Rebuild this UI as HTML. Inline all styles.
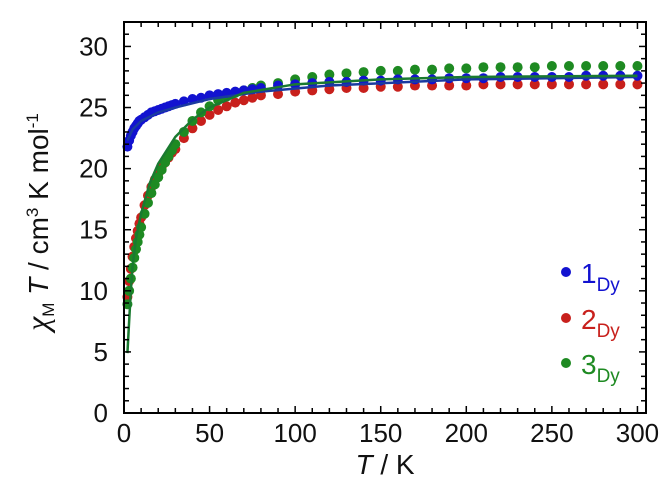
<!DOCTYPE html>
<html><head><meta charset="utf-8"><style>
body{margin:0;background:#fff}
svg{display:block}
text{font-family:"Liberation Sans","DejaVu Sans",sans-serif}
</style></head><body>
<svg id="chart" width="667" height="482" viewBox="0 0 667 482" xmlns="http://www.w3.org/2000/svg">
<g id="grid"></g>
<g id="series"></g>
<g id="axes"></g>
</svg>
<script>
const temps = [2,3,4,5,6,7,8,9,10,12,14,16,18,20,22,24,26,28,30,35,40,45,50,55,60,65,70,75,80,90,100,110,120,130,140,150,160,170,180,190,200,210,220,230,240,250,260,270,280,290,300];
const blueVals = [21.8,22.3,22.7,23.0,23.3,23.5,23.7,23.9,24.0,24.2,24.4,24.6,24.7,24.8,24.9,25.0,25.1,25.2,25.3,25.5,25.7,25.8,26.0,26.1,26.2,26.3,26.4,26.5,26.6,26.8,26.9,27.0,27.1,27.1,27.2,27.2,27.3,27.3,27.3,27.4,27.4,27.4,27.5,27.5,27.5,27.5,27.5,27.6,27.6,27.6,27.6];
const redVals = [9.5,10.8,11.8,12.8,13.6,14.3,14.9,15.5,16.0,17.0,17.8,18.5,19.1,19.6,20.1,20.5,20.9,21.3,21.6,22.5,23.3,23.9,24.4,24.8,25.1,25.4,25.6,25.8,26.0,26.1,26.3,26.4,26.5,26.6,26.6,26.7,26.7,26.8,26.8,26.8,26.8,26.9,26.9,26.9,26.9,26.9,26.9,26.9,26.9,26.9,26.9];
const greenVals = [8.9,10.0,11.0,11.9,12.7,13.4,14.0,14.6,15.2,16.3,17.2,18.0,18.7,19.3,19.9,20.5,21.0,21.5,22.0,23.0,23.9,24.6,25.1,25.6,25.9,26.2,26.4,26.6,26.8,27.0,27.3,27.5,27.7,27.8,27.9,28.0,28.0,28.1,28.1,28.2,28.2,28.3,28.3,28.3,28.3,28.4,28.4,28.4,28.4,28.4,28.4];
const blueFitT = [2,5,10,20,30,50,80,120,200,300];
const blueFitVals = [22.3,23.2,23.9,24.6,25.0,25.7,26.3,26.8,27.3,27.5];
const greenFitT = [2,3,4,5,7,10,15,20,30,40,50,70,100,150,200,300];
const greenFitVals = [4.9,7.5,10.0,12.0,14.3,16.3,18.8,20.4,22.6,24.0,25.0,26.2,26.9,27.3,27.5,27.6];
const xTicks = [0,50,100,150,200,250,300];
const yTicks = [0,5,10,15,20,25,30];

const NS="http://www.w3.org/2000/svg";
const X0=124, X1=646, Y0=413, Y1=22;
const xMin=0, xMax=305, yMin=0, yMax=32;
function sx(v){return X0+(v-xMin)/(xMax-xMin)*(X1-X0);}
function sy(v){return Y0-(v-yMin)/(yMax-yMin)*(Y0-Y1);}
function mk(tag,attrs,parent){const e=document.createElementNS(NS,tag);for(const k in attrs)e.setAttribute(k,attrs[k]);parent.appendChild(e);return e;}
const axes=document.getElementById('axes'), series=document.getElementById('series');

const frame=mk('rect',{x:X0,y:Y1,width:X1-X0,height:Y0-Y1,fill:'none',stroke:'#000','stroke-width':2},axes);



for(let v=0;v<=300;v+=10){
  const L=(v%50===0)?7:5;
  mk('line',{x1:sx(v),x2:sx(v),y1:Y0,y2:Y0-L,stroke:'#000','stroke-width':1.5},axes);
  mk('line',{x1:sx(v),x2:sx(v),y1:Y1,y2:Y1+L,stroke:'#000','stroke-width':1.5},axes);
}
for(let v=0;v<=32;v+=1){
  const L=(v%5===0)?7:5;
  mk('line',{x1:X0,x2:X0+L,y1:sy(v),y2:sy(v),stroke:'#000','stroke-width':1.5},axes);
  mk('line',{x1:X1,x2:X1-L,y1:sy(v),y2:sy(v),stroke:'#000','stroke-width':1.5},axes);
}
xTicks.forEach(v=>{
  const t=mk('text',{x:sx(v),y:442,'font-size':26,'text-anchor':'middle',fill:'#111'},axes);
  t.textContent=v;
  
  
});
yTicks.forEach(v=>{
  const t=mk('text',{x:108,y:sy(v)+9,'font-size':26,'text-anchor':'end',fill:'#111'},axes);
  t.textContent=v;
  
  
});

function line(ts,vs,color,name){
  const p=mk('polyline',{points:ts.map((t,i)=>sx(t)+','+sy(vs[i])).join(' '),fill:'none',stroke:color,'stroke-width':2.5},series);
  
  
}
function dots(vs,color,name){
  const g=mk('g',{fill:color},series);
  
  
  temps.forEach((t,i)=>{
    const c=mk('circle',{cx:sx(t),cy:sy(vs[i]),r:5},g);
    
    
  });
}
dots(redVals,'#c8201c','series-2dy');
dots(greenVals,'#1e8a22','series-3dy');
dots(blueVals,'#1212d0','series-1dy');
line(blueFitT,blueFitVals,'#1a3aa0','fit-1dy');
line(greenFitT,greenFitVals,'#1a7a30','fit-3dy');

const leg=[['1','#1212d0',272],['2','#c8201c',318],['3','#1e8a22',363]];
leg.forEach(([n,c,y])=>{
  const g=mk('g',{},axes);
  
  
  mk('circle',{cx:566,cy:y,r:5,fill:c},g);
  const t=mk('text',{x:581,y:y+11,'font-size':28,fill:c},g);
  t.innerHTML=n+'<tspan dy="8" font-size="19">Dy</tspan>';
});

const xl=mk('text',{x:385,y:474,'font-size':28,'text-anchor':'middle',fill:'#111'},axes);
xl.innerHTML='<tspan font-style="italic">T</tspan> / K';


const yl=mk('text',{x:0,y:0,'font-size':28,'text-anchor':'middle',fill:'#111',transform:'translate(48,222) rotate(-90)'},axes);
yl.innerHTML='<tspan font-family="Liberation Serif" font-style="italic" font-size="32">χ</tspan><tspan font-size="17" dy="6">M</tspan><tspan dy="-6" font-style="italic"> T</tspan> / cm<tspan font-size="17" dy="-10">3</tspan><tspan dy="10"> K mol</tspan><tspan font-size="17" dy="-10">-1</tspan>';


</script>
</body></html>
